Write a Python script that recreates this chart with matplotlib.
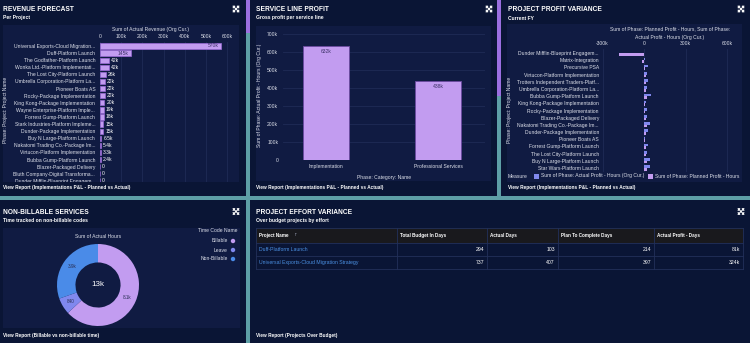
import matplotlib
matplotlib.use('Agg')
import matplotlib.pyplot as plt
import matplotlib.transforms as mtransforms
from matplotlib.patches import Rectangle, Circle
from matplotlib.lines import Line2D
import numpy as np

W, H = 750, 343
plt.rcParams['font.family'] = ['Liberation Sans', 'DejaVu Sans']

# palette
TEAL = '#5e9fa6'
PANEL = '#0a1535'
PLOT = '#101b42'
GRID = '#1f2b56'
LAV = '#c29cf0'
PERI = '#8088ee'
BLUE = '#4a8be8'
WHITE = '#ffffff'
TICK = '#dde0ea'
DARK = '#3d3368'
LINK = '#4a90e2'
SCROLL = '#9b6fe0'

SMALL = 3.65

# Revenue forecast (actual revenue per project)
revenue_projects = [
    'Universal Exports-Cloud Migration...', 'Duff-Platform Launch',
    'The Godfather-Platform Launch', 'Wonka Ltd.-Platform Implementati...',
    'The Lost City-Platform Launch', 'Umbrella Corporation-Platform La...',
    'Pioneer Boats AS', 'Rocky-Package Implementation',
    'King Kong-Package Implementation', 'Wayne Enterprise-Platform Imple...',
    'Forrest Gump-Platform Launch', 'Stark Industries-Platform Impleme...',
    'Dunder-Package Implementation', 'Buy N Large-Platform Launch',
    'Nakatomi Trading Co.-Package Im...', 'Virtucon-Platform Implementation',
    'Bubba Gump-Platform Launch', 'Blazer-Packaged Delivery',
    'Bluth Company-Digital Transforma...', 'Dunder Mifflin-Blueprint Engagem...',
]
revenue_values = [570000, 145000, 42000, 42000, 26000, 22000, 22000, 22000,
                  20000, 19000, 18000, 15000, 15000, 6500, 5400, 3300, 2400,
                  0, 0, 0]

# Service line profit
service_lines = ['Implementation', 'Professional Services']
service_profit = [632000, 438000]

# Project profit variance
variance_projects = [
    'Dunder Mifflin-Blueprint Engagem...', 'Matrix-Integration', 'Precursive PSA',
    'Virtucon-Platform Implementation', 'Trotters Independent Traders-Platf...',
    'Umbrella Corporation-Platform La...', 'Bubba Gump-Platform Launch',
    'King Kong-Package Implementation', 'Rocky-Package Implementation',
    'Blazer-Packaged Delivery', 'Nakatomi Trading Co.-Package Im...',
    'Dunder-Package Implementation', 'Pioneer Boats AS',
    'Forrest Gump-Platform Launch', 'The Lost City-Platform Launch',
    'Buy N Large-Platform Launch', 'Star Wars-Platform Launch',
]
variance_actual = [0, 5000, 30000, 25000, 28000, 22000, 48000, 15000, 18000,
                   25000, 45000, 28000, 5000, 28000, 25000, 40000, 42000]
variance_planned = [-180000, -15000, 8000, 15000, 12000, 15000, 18000, 10000,
                    10000, 12000, 20000, 15000, 8000, 15000, 15000, 20000, 20000]

# Non-billable services
time_codes = ['Billable', 'Leave', 'Non-Billable']
time_hours = [8100, 840, 3900]
time_colors = [LAV, PERI, BLUE]

# Project effort variance
effort_columns = ['Project Name', 'Total Budget In Days', 'Actual Days',
                  'Plan To Complete Days', 'Actual Profit - Days']
effort_projects = ['Duff-Platform Launch', 'Universal Exports-Cloud Migration Strategy']
effort_budget = [294, 737]
effort_actual = [103, 407]
effort_plan = [214, 397]
effort_profit = [81000, 324000]


def kfmt(v):
    if v == 0:
        return '0'
    if abs(v) >= 1000:
        if abs(v) < 10000:
            return f'{v / 1000:.1f}k'
        return f'{v / 1000:.0f}k'
    return f'{v:.0f}'


fig = plt.figure(figsize=(7.5, 3.43), dpi=100)
fig.patch.set_facecolor(TEAL)
px = mtransforms.Affine2D().scale(1 / W, -1 / H).translate(0, 1) + fig.transFigure


def rect(x0, y0, x1, y1, color, z=-2, **kw):
    fig.add_artist(Rectangle((x0, y0), x1 - x0, y1 - y0, transform=px,
                             facecolor=color, edgecolor='none', zorder=z, **kw))


def txt(x, y, s, size=SMALL, color=WHITE, weight='normal', ha='left', va='center', **kw):
    return fig.text(x, y, s, transform=px, fontsize=size, color=color,
                    fontweight=weight, ha=ha, va=va, **kw)


def ax_at(x0, y0, x1, y1):
    ax = fig.add_axes([x0 / W, 1 - y1 / H, (x1 - x0) / W, (y1 - y0) / H])
    ax.set_facecolor('none')
    for s in ax.spines.values():
        s.set_visible(False)
    ax.tick_params(length=0, labelsize=SMALL, colors=TICK)
    return ax


def expand_icon(x, y):
    # small diagonal cross with corner ticks, like a "maximise" glyph
    for dx in (-1, 1):
        fig.add_artist(Line2D([x - 2.6, x + 2.6], [y - 2.6 * dx, y + 2.6 * dx], transform=px,
                              color=WHITE, lw=0.8, solid_capstyle='butt'))
    for sx in (-1, 1):
        for sy in (-1, 1):
            cx, cy = x + 2.8 * sx, y + 2.8 * sy
            fig.add_artist(Line2D([cx, cx - 1.6 * sx, cx], [cy - 1.6 * sy, cy, cy],
                                  transform=px, color=WHITE, lw=0.8))


def header(x, y, title, subtitle, icon_x):
    txt(x, y, title, 4.8, weight='bold')
    txt(x, y + 8.5, subtitle, 3.6, weight='bold')
    expand_icon(icon_x, y - 0.5)


# panels
rect(0, 0, 246, 196, PANEL)
rect(250, 0, 497, 196, PANEL)
rect(501, 0, 750, 196, PANEL)
rect(0, 200, 246, 343, PANEL)
rect(250, 200, 750, 343, PANEL)
rect(246, 0, 250, 33, SCROLL)
rect(497, 0, 501, 96, SCROLL)

# chart backgrounds
rect(3, 25, 239, 182, PLOT, z=-1)
rect(256, 26, 491, 181, PLOT, z=-1)
rect(507, 24, 742, 182, PLOT, z=-1)
rect(3, 228, 240, 328, PLOT, z=-1)

# --- Revenue forecast ---
header(3, 9.5, 'REVENUE FORECAST', 'Per Project', 236)
ax1 = ax_at(100, 42, 232, 182)
idx = np.arange(len(revenue_projects))
ax1.barh(idx, revenue_values, height=0.75, color=LAV, edgecolor='#9a6ad8', lw=0.5)
ax1.set_xlim(0, 622000)
ax1.set_ylim(19.16, -0.56)
ax1.xaxis.tick_top()
ax1.set_xticks(np.arange(0, 600001, 100000))
ax1.set_xticklabels([kfmt(v) for v in np.arange(0, 600001, 100000)])
ax1.set_yticks(idx)
ax1.set_yticklabels(revenue_projects)
ax1.tick_params(axis='y', pad=3.5)
ax1.tick_params(axis='x', pad=2)
ax1.grid(axis='x', color=GRID, lw=0.6)
ax1.set_axisbelow(True)
for i, v in enumerate(revenue_values):
    inside = v > 100000
    ax1.annotate(kfmt(v), (v, i), xytext=(-1.5 if inside else 1.5, 0),
                 textcoords='offset points', ha='right' if inside else 'left',
                 va='center', fontsize=SMALL, color=DARK if inside else WHITE)
txt(150, 29, 'Sum of Actual Revenue (Org Cur.)', color=TICK, ha='center')
txt(5.5, 110, 'Phase: Project: Project Name', color=TICK, rotation=90, ha='center')
rect(0, 182, 246, 196, PANEL, z=1)
txt(3, 188, 'View Report (Implementations P&L - Planned vs Actual)', 3.4, weight='bold', zorder=4)

# --- Service line profit ---
header(256, 9.5, 'SERVICE LINE PROFIT', 'Gross profit per service line', 489)
ax2 = ax_at(283, 30, 485, 160)
xs = np.arange(len(service_lines))
ax2.bar(xs, service_profit, width=0.41, color=LAV, edgecolor='#6b4aa0', lw=0.6)
ax2.set_xlim(-0.384, 1.42)
ax2.set_ylim(0, 722000)
ax2.set_yticks(np.arange(0, 700001, 100000))
ax2.set_yticklabels([kfmt(v) for v in np.arange(0, 700001, 100000)])
ax2.set_xticks(xs)
ax2.set_xticklabels(service_lines)
ax2.tick_params(axis='x', pad=3)
ax2.tick_params(axis='y', pad=3.5)
ax2.grid(axis='y', color=GRID, lw=0.6)
ax2.set_axisbelow(True)
for x, v in zip(xs, service_profit):
    ax2.annotate(kfmt(v), (x, v), xytext=(0, -2), textcoords='offset points',
                 ha='center', va='top', fontsize=SMALL, color=DARK)
txt(384, 178, 'Phase: Category: Name', color=TICK, ha='center')
txt(259, 95, 'Sum of Phase: Actual Profit - Hours (Org Cur.)', color=TICK,
    rotation=90, ha='center')
txt(256, 188, 'View Report (Implementations P&L - Planned vs Actual)', 3.4, weight='bold')

# --- Project profit variance ---
header(508, 9.5, 'PROJECT PROFIT VARIANCE', 'Current FY', 741)
ax3 = ax_at(601, 49, 740, 172)
rows = np.arange(len(variance_projects))
bh = 0.36
ax3.barh(rows - bh / 2, variance_actual, height=bh, color=PERI, edgecolor='none')
ax3.barh(rows + bh / 2, variance_planned, height=bh, color=LAV, edgecolor='none')
ax3.set_xlim(-311000, 694000)
ax3.set_ylim(16.55, -0.55)
ax3.xaxis.tick_top()
vt = [-300000, 0, 300000, 600000]
ax3.set_xticks(vt)
ax3.set_xticklabels([kfmt(v) for v in vt])
ax3.set_yticks(rows)
ax3.set_yticklabels(variance_projects)
ax3.tick_params(axis='y', pad=1.5)
ax3.tick_params(axis='x', pad=2)
ax3.grid(axis='x', color=GRID, lw=0.6)
ax3.set_axisbelow(True)
txt(670, 29, 'Sum of Phase: Planned Profit - Hours, Sum of Phase:', color=TICK, ha='center')
txt(670, 37, 'Actual Profit - Hours (Org Cur.)', color=TICK, ha='center')
txt(510, 110, 'Phase: Project: Project Name', color=TICK, rotation=90, ha='center')
txt(508, 176, 'Measure', color=TICK)
rect(533.5, 173.5, 538.5, 178.5, PERI, z=2)
txt(541, 176, 'Sum of Phase: Actual Profit - Hours (Org Cur.)', color=TICK)
rect(647.5, 173.5, 652.5, 178.5, LAV, z=2)
txt(655, 176, 'Sum of Phase: Planned Profit - Hours', color=TICK)
txt(508, 188, 'View Report (Implementations P&L - Planned vs Actual)', 3.4, weight='bold')

# --- Non-billable services ---
header(3, 212, 'NON-BILLABLE SERVICES', 'Time tracked on non-billable codes', 236)
ax4 = ax_at(57, 244, 139, 326)
wedges, _ = ax4.pie(time_hours, colors=time_colors, startangle=90, counterclock=False,
                    radius=1, wedgeprops=dict(width=0.45, edgecolor='none'))
ax4.set_xlim(-1, 1)
ax4.set_ylim(-1, 1)
ax4.set_aspect('equal')
for w, v in zip(wedges, time_hours):
    ang = np.deg2rad((w.theta1 + w.theta2) / 2)
    ax4.text(0.78 * np.cos(ang), 0.78 * np.sin(ang), kfmt(v), ha='center',
             va='center', fontsize=3.3, color='#2a2f55')
ax4.text(0, 0, kfmt(sum(time_hours)), ha='center', va='center', fontsize=5.8, color=WHITE)
txt(98, 236, 'Sum of Actual Hours', color=TICK, ha='center')
txt(237, 230, 'Time Code Name', color=TICK, ha='right')
for k, (name, col) in enumerate(zip(time_codes, time_colors)):
    yy = 241 + 9 * k
    txt(228, yy, name, color=TICK, ha='right')
    fig.add_artist(Circle((233, yy), 2.2, transform=px, facecolor=col, edgecolor='none'))
txt(3, 335, 'View Report (Billable vs non-billable time)', 3.4, weight='bold')

# --- Project effort variance table ---
header(256, 212, 'PROJECT EFFORT VARIANCE', 'Over budget projects by effort', 741)
col_x = [256, 397, 487, 558, 654, 743]
row_y = [228, 243, 256, 269]
rect(col_x[0], row_y[0], col_x[-1], row_y[1], '#19191d', z=-1)
for yv in row_y:
    fig.add_artist(Line2D([col_x[0], col_x[-1]], [yv, yv], transform=px, color='#22305a', lw=0.6))
for xv in col_x:
    fig.add_artist(Line2D([xv, xv], [row_y[0], row_y[-1]], transform=px, color='#22305a', lw=0.6))
for c, name in enumerate(effort_columns):
    txt(col_x[c] + 3, 235.5, name, 3.3, weight='bold')
txt(293, 235.5, '↑', 3.2, color='#9aa0b5', family=['DejaVu Sans'])
for r, proj in enumerate(effort_projects):
    yy = (row_y[r + 1] + row_y[r + 2]) / 2
    txt(col_x[0] + 3, yy, proj, 3.7, color=LINK)
    vals = [str(effort_budget[r]), str(effort_actual[r]), str(effort_plan[r]), kfmt(effort_profit[r])]
    for c, s in enumerate(vals):
        txt(col_x[c + 2] - 3, yy, s, 3.7, ha='right')
txt(256, 335, 'View Report (Projects Over Budget)', 3.4, weight='bold')

fig.savefig('out.png', dpi=100, facecolor=TEAL)
